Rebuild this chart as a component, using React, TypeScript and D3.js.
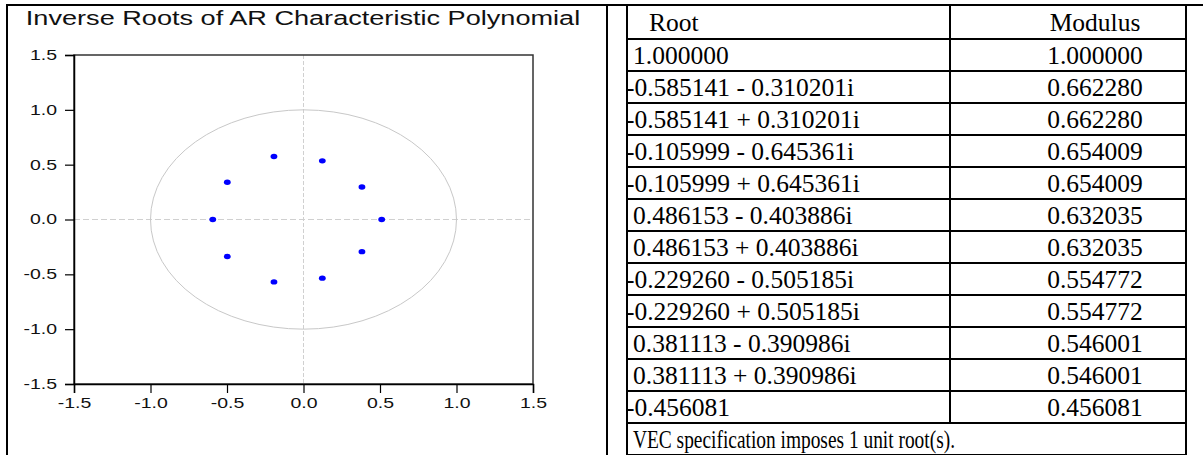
import { useEffect, useRef } from 'react';
import * as d3 from 'd3';

// inverse roots shown in the plot (real, imaginary)
const pointRe = [-0.193, -0.498, -0.593, -0.498, -0.193, 0.123, 0.382, 0.511, 0.382, 0.123];
const pointIm = [0.575, 0.34, 0, -0.338, -0.569, 0.535, 0.297, 0, -0.293, -0.535];

const axisTicks = [-1.5, -1.0, -0.5, 0.0, 0.5, 1.0, 1.5];

// table rows
const rootLabels = [
  '1.000000',
  '-0.585141 - 0.310201i',
  '-0.585141 + 0.310201i',
  '-0.105999 - 0.645361i',
  '-0.105999 + 0.645361i',
  '0.486153 - 0.403886i',
  '0.486153 + 0.403886i',
  '-0.229260 - 0.505185i',
  '-0.229260 + 0.505185i',
  '0.381113 - 0.390986i',
  '0.381113 + 0.390986i',
  '-0.456081',
];
const moduli = [
  '1.000000', '0.662280', '0.662280', '0.654009', '0.654009', '0.632035',
  '0.632035', '0.554772', '0.554772', '0.546001', '0.546001', '0.456081',
];
const footnote = 'VEC specification imposes 1 unit root(s).';

// the chart picture is stretched sideways in the source document
const SX = 1.39;

const App = () => {
  const ref = useRef<SVGSVGElement | null>(null);

  useEffect(() => {
    const svg = d3.select(ref.current);
    svg.selectAll('*').remove();

    const sans = 'Liberation Sans, Arial, sans-serif';
    const serif = 'Liberation Serif, Times New Roman, serif';

    // outer frame
    const frame = svg.append('g').attr('stroke', '#000').attr('stroke-width', 2);
    frame.append('line').attr('x1', 7).attr('x2', 1203).attr('y1', 5).attr('y2', 5);
    frame.append('line').attr('x1', 7).attr('x2', 7).attr('y1', 4).attr('y2', 455);
    frame.append('line').attr('x1', 607).attr('x2', 607).attr('y1', 4).attr('y2', 455);

    // ---- chart ----
    const x = d3.scaleLinear().domain([-1.5, 1.5]).range([74, 533]);
    const y = d3.scaleLinear().domain([-1.5, 1.5]).range([384, 55]);

    svg.append('text')
      .attr('transform', `translate(303,25) scale(${SX},1)`)
      .attr('text-anchor', 'middle')
      .attr('font-family', sans).attr('font-size', 19.5).attr('fill', '#111')
      .text('Inverse Roots of AR Characteristic Polynomial');

    const g = svg.append('g');

    // zero lines
    g.append('line')
      .attr('x1', x(0)).attr('x2', x(0)).attr('y1', y(1.5)).attr('y2', y(-1.5))
      .attr('stroke', '#d0d0d0').attr('stroke-dasharray', '4,2');
    g.append('line')
      .attr('x1', x(-1.5)).attr('x2', x(1.5)).attr('y1', y(0)).attr('y2', y(0))
      .attr('stroke', '#d0d0d0').attr('stroke-dasharray', '6,3');

    // unit circle
    g.append('ellipse')
      .attr('cx', x(0)).attr('cy', y(0))
      .attr('rx', x(1) - x(0)).attr('ry', y(0) - y(1))
      .attr('fill', 'none').attr('stroke', '#c8c8c8').attr('stroke-width', 1);

    // plot box
    g.append('rect')
      .attr('x', x(-1.5)).attr('y', y(1.5))
      .attr('width', x(1.5) - x(-1.5)).attr('height', y(-1.5) - y(1.5))
      .attr('fill', 'none').attr('stroke', '#333').attr('stroke-width', 1.5);

    const fmt = (d: d3.NumberValue) => (d as number).toFixed(1);

    const xAxis = g.append('g')
      .attr('transform', `translate(0,${y(-1.5)})`)
      .call(d3.axisBottom(x).tickValues(axisTicks).tickFormat(fmt).tickSize(9).tickPadding(5));
    const yAxis = g.append('g')
      .attr('transform', `translate(${x(-1.5)},0)`)
      .call(d3.axisLeft(y).tickValues(axisTicks).tickFormat(fmt).tickSize(9).tickPadding(8));
    [xAxis, yAxis].forEach(a => {
      a.select('.domain').attr('stroke', '#000').attr('stroke-width', 1.5);
      a.selectAll('.tick line').attr('stroke', '#000').attr('stroke-width', 1.2);
      a.selectAll('.tick text')
        .attr('font-family', sans).attr('font-size', 14).attr('fill', '#111')
        .attr('transform', `scale(${SX},1)`);
    });
    yAxis.selectAll('.tick text').attr('x', -17 / SX);

    // roots
    g.selectAll('.root')
      .data(pointRe.map((re, i) => ({ re, im: pointIm[i] })))
      .enter().append('ellipse')
      .attr('class', 'root')
      .attr('cx', d => x(d.re))
      .attr('cy', d => y(d.im))
      .attr('rx', 3.4).attr('ry', 2.7)
      .attr('fill', '#0000ff');

    // ---- table ----
    const left = 627, mid = 950, right = 1186, top = 5, headH = 34, rowH = 32;
    const modX = 1095;
    const rowY = d3.scaleLinear().domain([0, 1]).range([top + headH, top + headH + rowH]);
    const nRows = rootLabels.length + 1;
    const bottom = rowY(nRows);

    const t = svg.append('g');
    const lines = t.append('g').attr('stroke', '#000').attr('stroke-width', 2);
    lines.append('line').attr('x1', left).attr('x2', left).attr('y1', top).attr('y2', bottom);
    lines.append('line').attr('x1', right).attr('x2', right).attr('y1', top).attr('y2', bottom);
    lines.append('line').attr('x1', mid).attr('x2', mid).attr('y1', top).attr('y2', rowY(rootLabels.length));
    lines.selectAll('.hl')
      .data(d3.range(nRows + 1))
      .enter().append('line')
      .attr('x1', left).attr('x2', right)
      .attr('y1', d => rowY(d)).attr('y2', d => rowY(d));

    const txt = t.append('g')
      .attr('font-family', serif).attr('font-size', 25.5).attr('fill', '#000');

    txt.append('text').attr('x', 649).attr('y', top + headH / 2 + 9).text('Root');
    txt.append('text').attr('x', modX).attr('y', top + headH / 2 + 9)
      .attr('text-anchor', 'middle').text('Modulus');

    txt.selectAll('.rl')
      .data(rootLabels)
      .enter().append('text')
      .attr('x', d => (d.startsWith('-') ? left - 1 : left + 6))
      .attr('y', (_, i) => rowY(i) + rowH / 2 + 9)
      .text(d => d);

    txt.selectAll('.md')
      .data(moduli)
      .enter().append('text')
      .attr('x', modX)
      .attr('text-anchor', 'middle')
      .attr('y', (_, i) => rowY(i) + rowH / 2 + 9)
      .text(d => d);

    txt.append('text')
      .attr('x', left + 6)
      .attr('y', rowY(rootLabels.length) + rowH / 2 + 9)
      .attr('textLength', 322)
      .attr('lengthAdjust', 'spacingAndGlyphs')
      .text(footnote);
  }, []);

  return (
    <svg ref={ref} width={1203} height={455}
      style={{ position: 'absolute', left: 0, top: 0, background: '#fff' }} />
  );
};

export default App;
